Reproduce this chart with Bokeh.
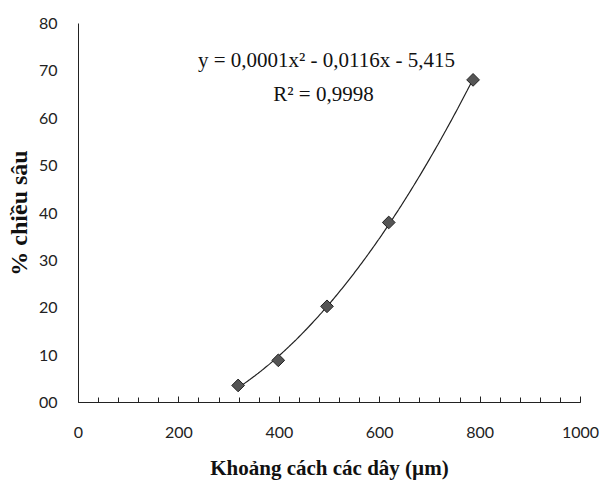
import numpy as np
from bokeh.plotting import figure
from bokeh.models import Range1d, FixedTicker, Label, ColumnDataSource
from bokeh.embed import file_html
from bokeh.resources import INLINE

# Data
spacing_um = [318, 398, 495, 618, 786]
depth_pct = [3.6, 8.9, 20.3, 38.0, 68.1]

x_major_ticks = [0, 200, 400, 600, 800, 1000]
x_minor_ticks = list(range(0, 1001, 40))
y_ticks = [0, 10, 20, 30, 40, 50, 60, 70, 80]
y_tick_labels = {0: "00"}

equation_text = "y = 0,0001x\u00b2 - 0,0116x - 5,415"
r2_text = "R\u00b2 = 0,9998"
x_title = "Kho\u1ea3ng c\u00e1ch c\u00e1c d\u00e2y (\u00b5m)"
y_title = "% chi\u1ec1u s\u00e2u"

p = figure(width=614, height=495, output_backend="svg", toolbar_location=None,
           x_range=Range1d(0, 1000), y_range=Range1d(0, 80),
           min_border_left=78, min_border_right=34, min_border_top=23, min_border_bottom=93)
p.outline_line_color = None
p.xgrid.visible = False
p.ygrid.visible = False
p.background_fill_color = "white"
p.border_fill_color = "white"

# x axis
p.xaxis.ticker = FixedTicker(ticks=x_major_ticks, minor_ticks=x_minor_ticks)
p.xaxis.major_tick_in = 6
p.xaxis.major_tick_out = 0
p.xaxis.minor_tick_in = 5
p.xaxis.minor_tick_out = 0
p.xaxis.axis_line_color = "#222222"
p.xaxis.major_tick_line_color = "#222222"
p.xaxis.minor_tick_line_color = "#222222"
p.xaxis.major_label_text_font = "Lato"
p.xaxis.major_label_text_font_size = "16px"
p.xaxis.major_label_text_color = "#222222"
p.xaxis.major_label_standoff = 24
p.xaxis.axis_label = x_title
p.xaxis.axis_label_text_font = "Liberation Serif"
p.xaxis.axis_label_text_font_style = "bold"
p.xaxis.axis_label_text_font_size = "21px"
p.xaxis.axis_label_text_color = "#111111"
p.xaxis.axis_label_standoff = 15

# y axis
p.yaxis.ticker = FixedTicker(ticks=y_ticks)
p.yaxis.major_label_overrides = y_tick_labels
p.yaxis.major_tick_in = 0
p.yaxis.major_tick_out = 0
p.yaxis.minor_tick_line_color = None
p.yaxis.axis_line_color = "#222222"
p.yaxis.major_label_text_font = "Lato"
p.yaxis.major_label_text_font_size = "16px"
p.yaxis.major_label_text_color = "#222222"
p.yaxis.major_label_standoff = 21
p.yaxis.axis_label = y_title
p.yaxis.axis_label_text_font = "Liberation Serif"
p.yaxis.axis_label_text_font_style = "bold"
p.yaxis.axis_label_text_font_size = "24px"
p.yaxis.axis_label_text_color = "#111111"
p.yaxis.axis_label_standoff = 4

# Polynomial trendline (order 2) fitted to the data
coef = np.polyfit(spacing_um, depth_pct, 2)
xs = np.linspace(min(spacing_um), max(spacing_um), 200)
ys = np.polyval(coef, xs)
p.line(xs, ys, line_color="#222222", line_width=1.2)

src = ColumnDataSource(dict(x=spacing_um, y=depth_pct))
p.scatter("x", "y", source=src, marker="square", size=9, angle=np.pi / 4,
          fill_color="#555555", line_color="#222222", line_width=1)

p.add_layout(Label(x=494, y=72.2, text=equation_text, text_align="center",
                   text_baseline="middle", text_font="Liberation Serif",
                   text_font_size="21px", text_color="#111111"))
p.add_layout(Label(x=488, y=65.2, text=r2_text, text_align="center",
                   text_baseline="middle", text_font="Liberation Serif",
                   text_font_size="21px", text_color="#111111"))

open("out.html", "w").write(file_html(p, INLINE))
